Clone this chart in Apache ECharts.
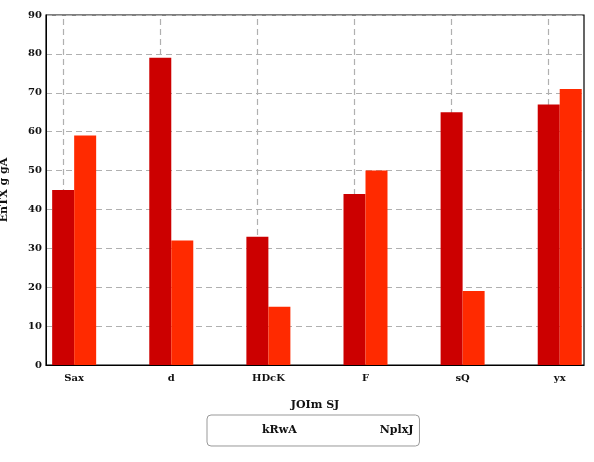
<!DOCTYPE html>
<html>
<head>
    <script src="https://cdn.jsdelivr.net/npm/echarts@6/dist/echarts.min.js"></script>
    <style>
        body { margin: 0; }
        #chart { width: 594px; height: 462px; }
    </style>
</head>
<body>
    <div id="chart"></div>
    <script>
        var categories = ['Sax', 'd', 'HDcK', 'F', 'sQ', 'yx'];
        var seriesNames = ['kRwA', 'NplxJ'];
        var valuesA = [45, 79, 33, 44, 65, 67];
        var valuesB = [59, 32, 15, 50, 19, 71];
        var yTicks = [0, 10, 20, 30, 40, 50, 60, 70, 80, 90];

        var font = 'DejaVu Serif';
        var idx = categories.map(function (c, i) { return i; });

        function toPoints(vals) {
            return vals.map(function (v, i) { return [i, v]; });
        }

        var chart = echarts.init(document.getElementById('chart'));
        chart.setOption({
            animation: false,
            grid: { left: 46, right: 10, top: 15, bottom: 97, containLabel: false, outerBoundsMode: 'none',
                show: true, borderColor: '#000', borderWidth: 1.2 },
            legend: {
                data: seriesNames,
                left: 207, top: 415,
                padding: [4, 6, 4, 50],
                itemGap: 78,
                itemWidth: 0, itemHeight: 0,
                icon: 'rect',
                borderColor: '#999', borderWidth: 1, borderRadius: 4,
                textStyle: { fontFamily: font, fontWeight: 'bold', fontSize: 11, color: '#111', padding: [0, 0, 0, 0] }
            },
            xAxis: {
                type: 'value',
                min: -0.29, max: 5.25,
                name: 'JOIm SJ', nameLocation: 'middle', nameGap: 25,
                nameTextStyle: { fontFamily: font, fontWeight: 'bold', fontSize: 11, color: '#111' },
                axisLine: { onZero: false, lineStyle: { color: '#000' } },
                axisTick: { show: false },
                splitLine: { show: false },
                axisLabel: {
                    customValues: idx,
                    fontFamily: font, fontWeight: 'bold', fontSize: 10, color: '#111', margin: 3,
                    formatter: function (v) { return categories[Math.round(v)]; }
                }
            },
            yAxis: {
                type: 'value', min: 0, max: 90, interval: 10,
                name: 'EnTX g gA', nameLocation: 'middle', nameGap: 30,
                nameTextStyle: { fontFamily: font, fontWeight: 'bold', fontSize: 11, color: '#111' },
                axisLine: { show: true, onZero: false, lineStyle: { color: '#000' } },
                axisTick: { show: false },
                axisLabel: {
                    fontFamily: font, fontWeight: 'bold', fontSize: 10, color: '#111', margin: 4,
                    formatter: function (v) { return yTicks.indexOf(v) >= 0 ? String(v) : ''; }
                },
                splitLine: { lineStyle: { color: '#b0b0b0', type: [6, 4], width: 1.2 } }
            },
            series: [
                {
                    name: seriesNames[0], type: 'bar', barWidth: 22, barGap: '0%',
                    itemStyle: { color: '#cc0000' },
                    data: toPoints(valuesA),
                    markLine: {
                        silent: true, symbol: 'none', label: { show: false },
                        lineStyle: { color: '#b0b0b0', type: [6, 4], width: 1.2 },
                        data: idx.map(function (i) { return { xAxis: i }; }),
                        z: 0
                    },
                    z: 3
                },
                {
                    name: seriesNames[1], type: 'bar', barWidth: 22, barGap: '0%',
                    itemStyle: { color: '#ff2a00' },
                    data: toPoints(valuesB),
                    z: 3
                }
            ]
        });
    </script>
</body>
</html>
